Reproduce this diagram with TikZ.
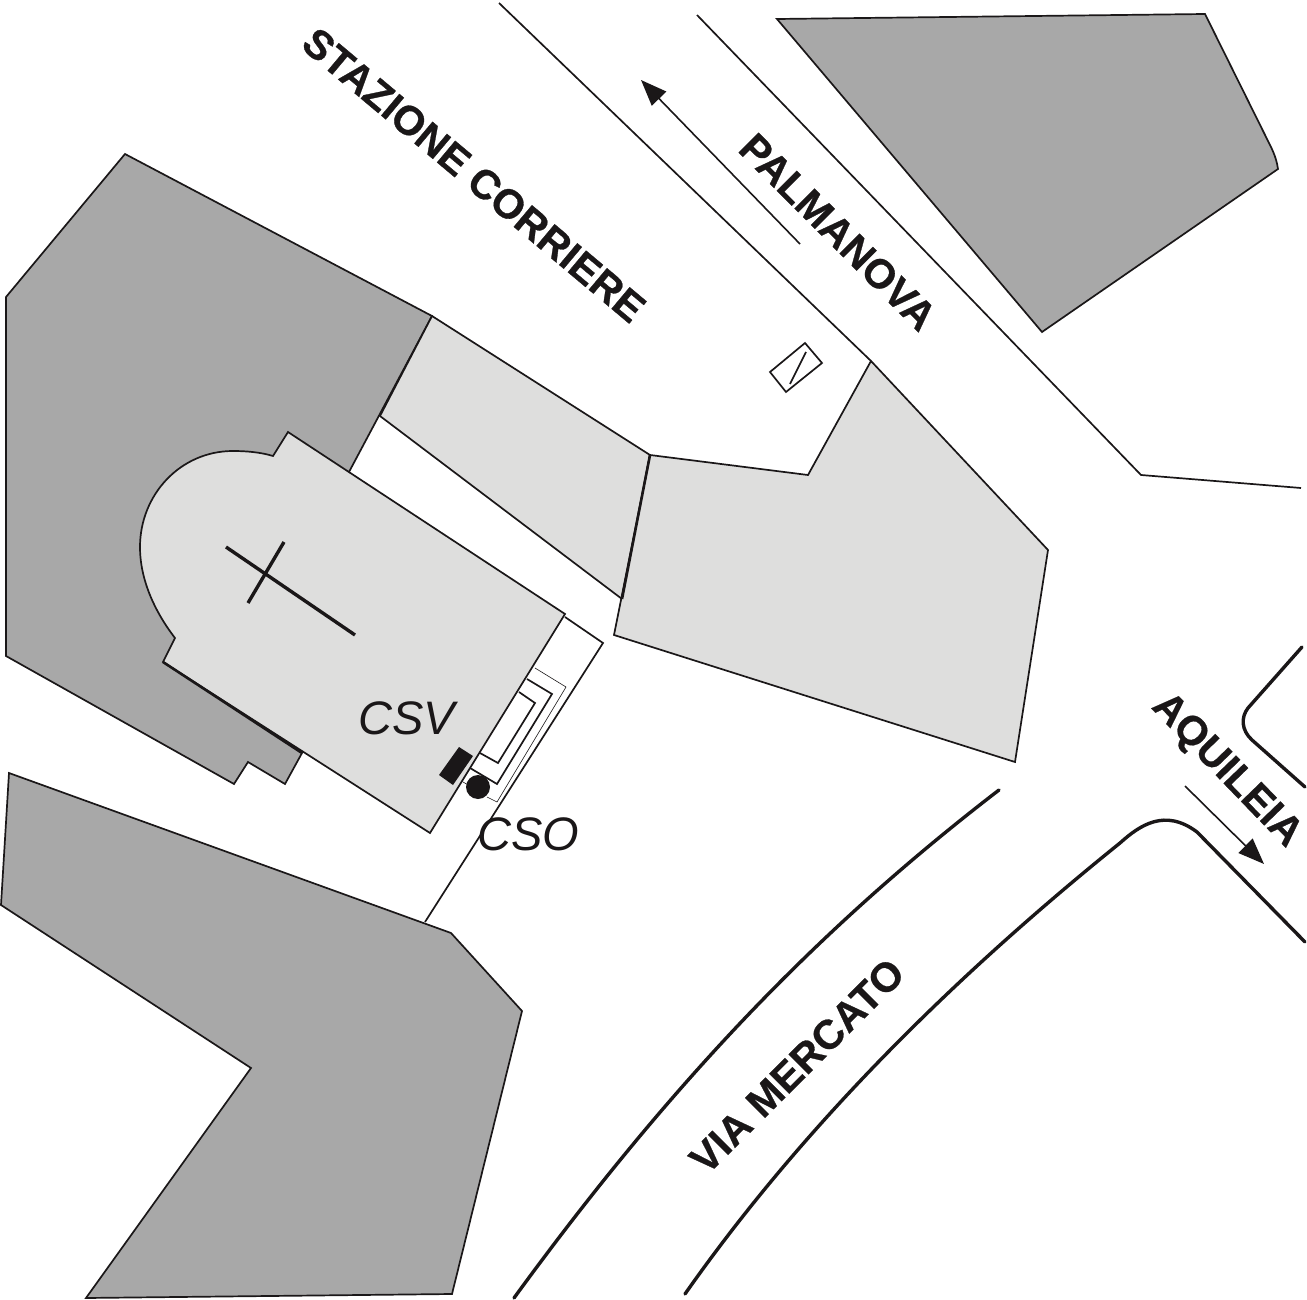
\documentclass[tikz,border=0pt]{standalone}
\usepackage{fontspec}
\setmainfont{Liberation Sans}
\newfontfamily\streetfont[BoldFeatures={FakeBold=0.7}]{Liberation Sans}
\usetikzlibrary{arrows.meta}
\definecolor{darkblock}{RGB}{168,168,168}
\definecolor{lightblock}{RGB}{222,222,221}
\definecolor{ink}{RGB}{26,23,24}
\tikzset{
  outline/.style={draw=ink,line width=1.7pt,line join=miter},
  darkshape/.style={outline,fill=darkblock},
  lightshape/.style={outline,fill=lightblock},
  road/.style={draw=ink,line width=1.7pt},
  heavyroad/.style={draw=ink,line width=3.4pt,line cap=round},
  thinline/.style={draw=ink,line width=.6pt},
  street/.style={font=\streetfont\fontsize{41}{41}\selectfont\bfseries,text=ink,inner sep=0pt},
  tag/.style={font=\fontsize{47}{47}\selectfont\itshape,text=ink,inner sep=0pt},
  dirarrow/.style={draw=ink,line width=1.6pt,-{Triangle[length=26pt,width=20pt]}},
}
\begin{document}
\begin{tikzpicture}[x=1pt,y=-1pt]
\useasboundingbox (0,0) rectangle (1307,1300);
% dark blocks
\path[darkshape] (777,19) -- (1205,14) -- (1270,145) .. controls (1275,155) and (1277,162) .. (1278,169) -- (1042,332) -- cycle;
\path[darkshape] (6,297) -- (125,154) -- (432,316) -- (349,472) -- (302,753) -- (285,784) -- (248,762) -- (234,784) -- (6,656) -- cycle;
\path[darkshape] (9,773) -- (451,933) -- (522,1011) -- (452,1294) -- (86,1298) -- (251,1068) -- (1,905) -- cycle;
% light blocks
\path[lightshape] (432,316) -- (650,455) -- (622,599) -- (380,416) -- cycle;
\path[lightshape] (650,455) -- (808,475) -- (871,361) -- (1048,550) -- (1015,762) -- (614,635) -- cycle;
\draw[draw=ink,line width=2.6pt] (650,455) -- (622,599);
% church
\path[lightshape] (288,432) -- (565,614) -- (430,833) -- (163,662) -- (175,638)
  .. controls (155,612) and (140,580) .. (140,547)
  .. controls (140,495) and (180,451) .. (233,451)
  .. controls (245,451) and (260,452) .. (273,456) -- cycle;
\draw[draw=ink,line width=2.6pt] (163,662) -- (302,753);
\draw[draw=ink,line width=3.4pt] (226,547) -- (355,635);
\draw[draw=ink,line width=3.4pt] (284,542) -- (248,603);
% forecourt
\path[road] (565,617) -- (603,643) -- (425,922);
\path[road] (527,679) -- (552,694) -- (497,784) -- (470,768);
\path[road] (519,692) -- (535,703) -- (498,763) -- (480,753);
\path[thinline] (535,668) -- (566,687) -- (497,802) -- (487,797);
\path[thinline] (463,782) -- (470,786);
\fill[ink] (459,747) -- (473,756) -- (453,785) -- (439,775) -- cycle;
\fill[ink] (478,787) circle (12);
% kiosk
\path[road] (770,372) -- (805,343) -- (822,363) -- (786,392) -- cycle;
\path[road] (806,352) -- (790,384);
% roads
\path[road] (499,3) -- (871,361);
\path[road] (697,15) -- (1141,475) -- (1301,488);
\coordinate (palmStart) at (800,244);
\coordinate (palmEnd) at (641,80);
\draw[dirarrow] (palmStart) -- (palmEnd);
\coordinate (aquiStart) at (1185,786);
\coordinate (aquiEnd) at (1264,864);
\draw[dirarrow] (aquiStart) -- (aquiEnd);
\path[heavyroad] (999,790) .. controls (830,920) and (680,1070) .. (514,1298);
\path[heavyroad] (685,1294) .. controls (800,1130) and (950,980) .. (1120,843)
  .. controls (1140,825) and (1165,808) .. (1197,832) -- (1305,942);
\path[heavyroad] (1302,647) -- (1248,708) .. controls (1241,717) and (1241,730) .. (1252,740) -- (1305,787);
% labels
\node[street,rotate=-40] (stazione) at (474,175) {STAZIONE CORRIERE};
\node[street,rotate=-45] (palmanova) at (838,232) {PALMANOVA};
\node[street,rotate=45] (mercato) at (797,1066) {VIA MERCATO};
\node[street,rotate=-46] (aquileia) at (1226,771) {AQUILEIA};
\node[tag] (csv) at (407,718) {CSV};
\node[tag] (cso) at (528,834) {CSO};
\end{tikzpicture}
\end{document}
